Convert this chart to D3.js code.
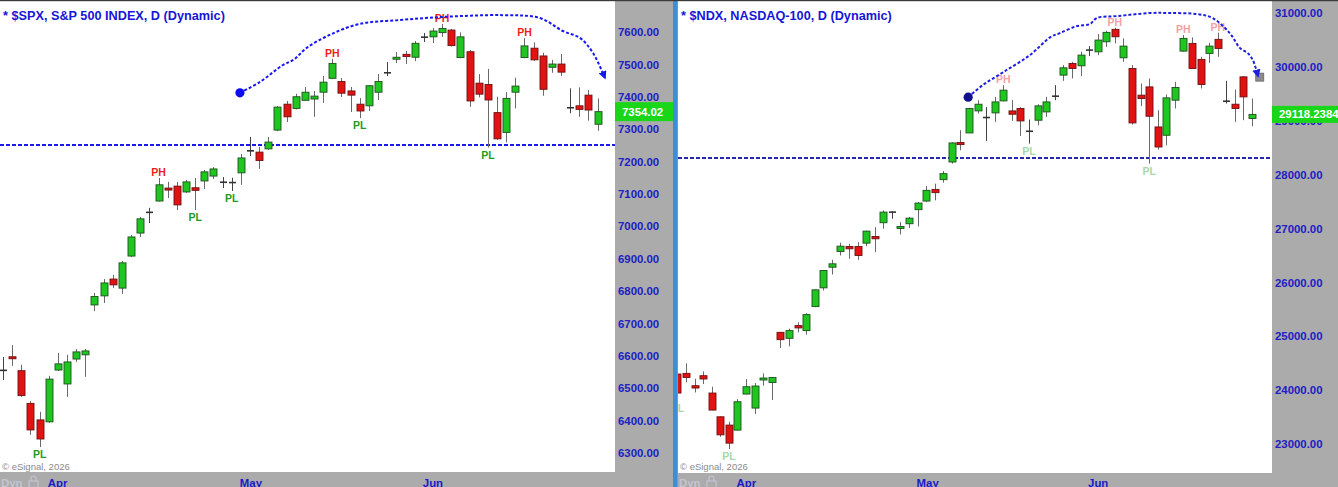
<!DOCTYPE html>
<html><head><meta charset="utf-8">
<script src="https://cdn.jsdelivr.net/npm/d3@7"></script>
<style>
html,body{margin:0;padding:0;background:#fff;overflow:hidden}
svg{display:block}
text{font-family:"Liberation Sans",Arial,sans-serif}
</style></head><body>
<svg id="chart" width="1338" height="487"></svg>
<script>
// ---------------- DATA ----------------
// S&P 500 daily candles, index 0..65 (Mar 25 .. late Jun)
const spxOpen  = [6555,6597,6554,6453,6402,6396,6556,6513,6590,6603,6757,6785,6837,6809,6908,6979,7043,7078,7118,7124,7106,7119,7140,7155,7136,7135,7165,7233,7229,7239,7297,7377,7364,7389,7393,7414,7457,7447,7418,7377,7372,7414,7474,7516,7531,7522,7584,7585,7598,7606,7521,7539,7442,7438,7351,7290,7414,7521,7550,7526,7491,7501,7366,7372,7405,7315];
const spxHigh  = [6596,6633,6572,6460,6427,6538,6609,6603,6621,6621,6794,6837,6850,6893,6973,7029,7057,7149,7137,7137,7143,7149,7174,7183,7152,7150,7223,7276,7245,7276,7371,7387,7409,7430,7418,7464,7517,7458,7430,7396,7436,7470,7507,7538,7541,7572,7597,7612,7625,7609,7599,7544,7470,7486,7400,7414,7459,7581,7568,7536,7514,7532,7426,7429,7421,7395];
const spxLow   = [6525,6569,6473,6356,6318,6393,6553,6473,6581,6535,6738,6763,6809,6791,6905,6967,7010,7076,7087,7050,7103,7050,7115,7146,7118,7109,7128,7217,7177,7236,7294,7322,7361,7389,7338,7381,7455,7399,7353,7334,7356,7390,7464,7504,7501,7510,7569,7566,7585,7555,7519,7369,7398,7243,7267,7259,7364,7519,7511,7403,7474,7464,7349,7338,7326,7295];
const spxClose = [6555,6591,6477,6371,6343,6528,6575,6581,6612,6615,6783,6825,6819,6887,6967,7023,7043,7128,7112,7066,7137,7111,7168,7177,7136,7135,7211,7233,7203,7260,7368,7338,7400,7414,7402,7445,7503,7411,7405,7356,7434,7447,7474,7522,7524,7565,7584,7603,7611,7558,7585,7387,7408,7390,7270,7395,7433,7557,7514,7423,7501,7476,7366,7361,7359,7354.02];

// NASDAQ-100 daily candles, index -2..65
const ndxStart = -2;
const ndxOpen  = [24298,24310,24081,24267,23945,23504,23350,23257,23926,23666,24187,24142,25072,24961,25197,25104,25550,25898,26281,26573,26666,26666,26728,26852,27107,27304,27007,27088,27349,27509,27726,27907,28234,28595,28774,29183,29060,29146,29369,29183,29227,28805,29010,29164,29456,29847,30064,30020,30312,30280,30466,30697,30169,29971,29475,29629,28885,28731,29382,30293,30436,30139,30250,30511,29363,29307,29815,29041];
const ndxHigh  = [24330,24496,24211,24347,24062,23510,23411,23833,24205,24131,24310,24240,25080,25141,25258,25426,25870,26230,26419,26735,26716,26746,26960,27025,27336,27320,27118,27211,27490,27788,27832,28067,28600,28824,29240,29382,29257,29443,29661,29382,29252,29023,29307,29443,29661,30033,30094,30280,30386,30609,30671,30727,30529,30033,29692,29785,29196,29488,29722,30591,30548,30187,30448,30634,29741,29581,29828,29413];
const ndxLow   = [23800,24142,23956,24112,23625,23132,22903,23250,23920,23554,24081,23815,24782,24812,25072,25029,25540,25848,26145,26499,26437,26419,26672,26560,26995,27181,26889,27007,27038,27490,27522,27851,28204,28452,28770,29134,28625,28978,29360,28997,28718,28576,28917,29071,29382,29741,29785,29828,30200,30219,30373,30436,30094,28930,29270,28204,28465,28545,29227,30280,29960,29599,30076,30187,29320,28978,29010,28898];
const ndxClose = [23945,24235,24038,24206,23629,23169,23015,23783,24062,24075,24224,24235,24936,25104,25154,25401,25861,26220,26344,26672,26623,26499,26951,26809,27304,27304,27038,27192,27472,27708,27665,28018,28588,28563,29227,29307,29060,29350,29568,29121,28997,28805,29276,29350,29456,29983,29971,30219,30312,30498,30641,30559,30386,28960,29413,29084,28513,29425,29618,30529,29971,29674,30386,30343,29363,29227,29443,29118.2384];

// pivot labels (candle indices)
const spxPH = [17,36,48,57];
const spxPL = [4,21,25,39,53];
const ndxPH = [36,49,57,61];
const ndxPL = [-2,4,39,53];

// axis ticks
const spxTicks = [6300,6400,6500,6600,6700,6800,6900,7000,7100,7200,7300,7400,7500,7600];
const ndxTicks = [23000,24000,25000,26000,27000,28000,29000,30000,31000];

// month labels: first trading day index of each month
const monthLabels = ["Apr","May","Jun"];
const monthIndex  = [5,26,46];

// hand-drawn annotations: [index, price]
const spxArc = [[25.9,7412],[28.1,7446],[30.6,7498],[31.8,7515],[33.2,7551],[35.7,7591],[39.0,7625],[43.4,7637],[47.8,7646],[54.6,7652],[58.7,7643],[61.2,7603],[63.1,7581],[64.5,7535],[65.8,7458]];
const ndxArc = [[31.9,29438],[33.6,29661],[36.0,29903],[39.1,30219],[41.5,30554],[42.6,30628],[44.6,30758],[46.1,30795],[46.9,30907],[49.3,30944],[53.1,31000],[55.4,31000],[58.6,30981],[60.4,30907],[62.4,30628],[63.6,30349],[64.5,30256],[65.1,30126],[65.7,29828]];
const spxSupport = 7251;
const ndxSupport = 28309;

// ---------------- DRAW ----------------
const svg = d3.select("#chart");
const W = 1338, H = 487;
svg.append("rect").attr("width",W).attr("height",H).attr("fill","#ababab");

const defs = svg.append("defs");

function drawPanel(c) {
  const g = svg.append("g");
  // plot bg
  g.append("rect").attr("x",c.px0).attr("y",1).attr("width",c.px1-c.px0).attr("height",c.py1-1).attr("fill","#fff");
  const x = d3.scaleLinear().domain(c.xDomain).range([c.xr0,c.px1]);
  const y = d3.scaleLinear().domain(c.yDomain).range([c.py1,0]);

  const clipId = "clip"+c.id;
  defs.append("clipPath").attr("id",clipId).append("rect")
    .attr("x",c.px0).attr("y",1).attr("width",c.px1-c.px0).attr("height",c.py1-1);
  const pg = g.append("g").attr("clip-path",`url(#${clipId})`);

  // support line
  pg.append("line").attr("x1",c.px0).attr("x2",c.px1)
    .attr("y1",y(c.support)).attr("y2",y(c.support))
    .attr("stroke",c.supColor).attr("stroke-width",2).attr("stroke-dasharray","4,2");

  const data = c.open.map((o,k)=>({i:k+c.start,o:o,h:c.high[k],l:c.low[k],cl:c.close[k]}));
  const bw = 7;
  const cg = pg.append("g");
  data.forEach(d=>{
    const cx = Math.round(x(d.i))+0.5;
    const doji = Math.abs(d.o-d.cl) < 0.5;
    cg.append("line").attr("x1",cx).attr("x2",cx).attr("y1",y(d.h)).attr("y2",y(d.l))
      .attr("stroke", doji ? "#444" : "#6a6a6a").attr("stroke-width",1);
    if (doji) {
      cg.append("line").attr("x1",cx-bw/2).attr("x2",cx+bw/2).attr("y1",y(d.o)).attr("y2",y(d.o))
        .attr("stroke","#333").attr("stroke-width",1.6);
    } else {
      const up = d.cl > d.o;
      const top = y(Math.max(d.o,d.cl)), bot = y(Math.min(d.o,d.cl));
      const hgt = Math.max(bot-top, 2);
      cg.append("rect").attr("x",cx-bw/2).attr("y",top).attr("width",bw).attr("height",hgt)
        .attr("fill", up ? "#1fc61f" : "#e01212")
        .attr("stroke", up ? "#1d4f1d" : "#6e1010").attr("stroke-width",0.9);
    }
  });

  // pivot labels
  const byIdx = i => data[i-c.start];
  c.ph.forEach(i=>{
    const d = byIdx(i);
    pg.append("text").attr("x",x(i)).attr("y",y(d.h)-2).attr("text-anchor","middle")
      .attr("font-size","10.5px").attr("font-weight","bold").attr("fill",c.phColor).text("PH");
  });
  c.pl.forEach(i=>{
    const d = byIdx(i);
    pg.append("text").attr("x",x(i)).attr("y",y(d.l)+11).attr("text-anchor","middle")
      .attr("font-size","10.5px").attr("font-weight","bold").attr("fill",c.plColor).text("PL");
  });

  // arc annotation
  const mid = "arrow"+c.id;
  defs.append("marker").attr("id",mid).attr("viewBox","0 0 10 10").attr("refX",8).attr("refY",5)
    .attr("markerWidth",4.2).attr("markerHeight",4.2).attr("orient","auto").attr("markerUnits","strokeWidth")
    .append("path").attr("d","M0,0L10,5L0,10z").attr("fill",c.arcColor);
  if (c.endSquare) {
    const last = c.arc[c.arc.length-1];
    pg.append("rect").attr("x",x(last[0]+0.2)-4).attr("y",y(last[1])-3).attr("width",8).attr("height",8)
      .attr("fill","#8c8c8c").attr("stroke","#666").attr("stroke-width",0.8);
  }
  const line = d3.line().x(p=>x(p[0])).y(p=>y(p[1])).curve(d3.curveCatmullRom.alpha(0.5));
  pg.append("path").attr("d",line(c.arc)).attr("fill","none").attr("stroke",c.arcColor)
    .attr("stroke-width",2).attr("stroke-dasharray","3,2").attr("marker-end",`url(#${mid})`);
  pg.append("circle").attr("cx",x(c.arc[0][0])).attr("cy",y(c.arc[0][1])).attr("r",4.6).attr("fill",c.dotColor);

  // title & copyright
  g.append("text").attr("x",c.px0+3).attr("y",20).attr("font-size","12.7px").attr("font-weight","bold")
    .attr("fill","#1616d6").text(c.title);
  g.append("text").attr("x",c.px0+2).attr("y",470).attr("font-size","9.5px").attr("fill","#8a8a8a")
    .text("© eSignal, 2026");

  // y axis
  const ax = d3.axisRight(y).tickValues(c.ticks).tickSize(0).tickPadding(3).tickFormat(d3.format(".2f"));
  const ag = g.append("g").attr("transform",`translate(${c.px1},0)`).call(ax);
  ag.select(".domain").remove();
  ag.selectAll("text").attr("font-size","11.4px").attr("font-weight","bold").attr("fill","#2020c4")
    .attr("font-family","Liberation Sans, Arial, sans-serif");

  // last price tag
  const lastC = c.close[c.close.length-1];
  const ty = y(lastC);
  g.append("rect").attr("x",c.px1).attr("y",ty-c.tagH/2).attr("width",c.ax1-c.px1).attr("height",c.tagH).attr("fill","#19d619");
  g.append("text").attr("x",c.px1+7).attr("y",ty+4).attr("font-size","11.4px").attr("font-weight","bold")
    .attr("fill","#fff").text(c.tagText);

  // bottom strip: month labels, Dyn + lock
  monthLabels.forEach((m,k)=>{
    g.append("text").attr("x",x(monthIndex[k])-1).attr("y",486.5).attr("font-size","11.4px")
      .attr("font-weight","bold").attr("fill","#1a1ac8").text(m);
  });
  g.append("text").attr("x",c.px0+1).attr("y",486.5).attr("font-size","11.4px").attr("font-weight","bold")
    .attr("fill","#c4c4d2").text("Dyn");
  const lx = c.px0+29;
  g.append("rect").attr("x",lx).attr("y",481).attr("width",9).attr("height",7).attr("fill","none")
    .attr("stroke","#c4c4d2").attr("stroke-width",1.2);
  g.append("path").attr("d",`M${lx+2},481 v-2.5 a2.5,2.5 0 0 1 5,0 v2.5`).attr("fill","none")
    .attr("stroke","#c4c4d2").attr("stroke-width",1.2);
}

drawPanel({
  id:"L", px0:0, px1:615, xr0:0, ax1:673, py1:472,
  xDomain:[-0.33,66.9], yDomain:[6241.1,7698.8],
  open:spxOpen, high:spxHigh, low:spxLow, close:spxClose, start:0,
  ph:spxPH, pl:spxPL, phColor:"#ee1c1c", plColor:"#1f9c1f",
  arc:spxArc, arcColor:"#1616f0", dotColor:"#0c0cf0", endSquare:false,
  support:spxSupport, supColor:"#1a1ae8",
  ticks:spxTicks, title:"* $SPX, S&P 500 INDEX, D (Dynamic)",
  tagText:"7354.02", tagH:19
});

// separator
svg.append("rect").attr("x",673).attr("y",0).attr("width",4.5).attr("height",H).attr("fill","#3a8fd6");

drawPanel({
  id:"R", px0:678, px1:1272, xr0:679, ax1:1338, py1:473,
  xDomain:[-1.82,67.33], yDomain:[22460.5,31241.9],
  open:ndxOpen, high:ndxHigh, low:ndxLow, close:ndxClose, start:ndxStart,
  ph:ndxPH, pl:ndxPL, phColor:"#f3a2a2", plColor:"#a8d8a8",
  arc:ndxArc, arcColor:"#1e1ee0", dotColor:"#10108c", endSquare:true,
  support:ndxSupport, supColor:"#2626b0",
  ticks:ndxTicks, title:"* $NDX, NASDAQ-100, D (Dynamic)",
  tagText:"29118.2384", tagH:17
});

// top border
svg.append("rect").attr("x",0).attr("y",0).attr("width",W).attr("height",1.2).attr("fill","#3a3a3a");
</script>
</body></html>
